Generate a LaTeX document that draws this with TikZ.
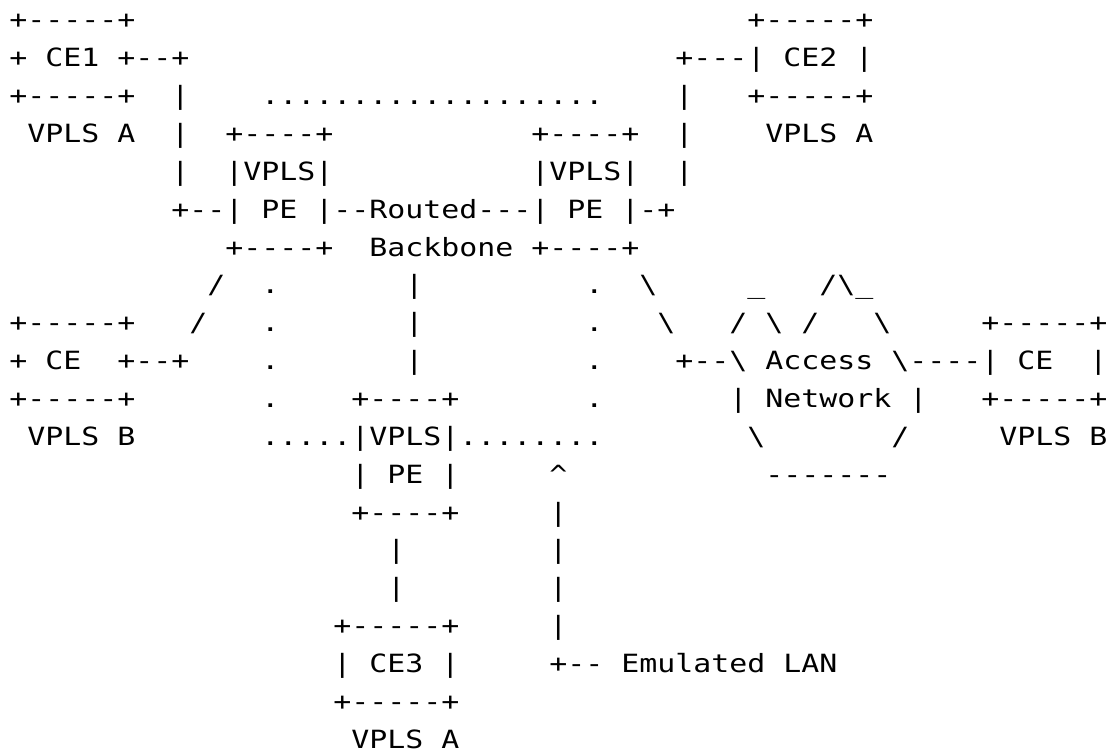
\documentclass[tikz,border=0pt]{standalone}
\usepackage{fontspec}
\newfontfamily\asciifam[FakeStretch=1.1913,Ligatures=TeXOff]{DejaVu Sans Mono}
\tikzset{txt/.style={anchor=base west,inner sep=0pt,outer sep=0pt,text=black,
  font=\asciifam\fontsize{25.1}{30}\selectfont}}
% #1 = line (1-based), #2 = column (0-based), #3 = text
\newcommand\R[3]{\node[txt] (n#1x#2) at ({9.3pt+18pt*#2},{-28.8pt-37.87pt*(#1-1)}) {#3};}
\newcommand\bs{\textbackslash}
\begin{document}
\begin{tikzpicture}
\fill[white] (0,0) rectangle (1111pt,-753pt);
\useasboundingbox (0,0) rectangle (1111pt,-753pt);
% line 1
\R{1}{0}{+-----+}\R{1}{41}{+-----+}
% line 2
\R{2}{0}{+}\R{2}{2}{CE1}\R{2}{6}{+--+}\R{2}{37}{+---|}\R{2}{43}{CE2}\R{2}{47}{|}
% line 3
\R{3}{0}{+-----+}\R{3}{9}{|}\R{3}{14}{...................}\R{3}{37}{|}\R{3}{41}{+-----+}
% line 4
\R{4}{1}{VPLS}\R{4}{6}{A}\R{4}{9}{|}\R{4}{12}{+----+}\R{4}{29}{+----+}\R{4}{37}{|}\R{4}{42}{VPLS}\R{4}{47}{A}
% line 5
\R{5}{9}{|}\R{5}{12}{|VPLS|}\R{5}{29}{|VPLS|}\R{5}{37}{|}
% line 6
\R{6}{9}{+--|}\R{6}{14}{PE}\R{6}{17}{|--Routed---|}\R{6}{31}{PE}\R{6}{34}{|-+}
% line 7
\R{7}{12}{+----+}\R{7}{20}{Backbone}\R{7}{29}{+----+}
% line 8
\R{8}{11}{/}\R{8}{14}{.}\R{8}{22}{|}\R{8}{32}{.}\R{8}{35}{\bs}\R{8}{41}{\_}\R{8}{45}{/\bs\_}
% line 9
\R{9}{0}{+-----+}\R{9}{10}{/}\R{9}{14}{.}\R{9}{22}{|}\R{9}{32}{.}\R{9}{36}{\bs}\R{9}{40}{/}\R{9}{42}{\bs}\R{9}{44}{/}\R{9}{48}{\bs}\R{9}{54}{+-----+}
% line 10
\R{10}{0}{+}\R{10}{2}{CE}\R{10}{6}{+--+}\R{10}{14}{.}\R{10}{22}{|}\R{10}{32}{.}\R{10}{37}{+--\bs}\R{10}{42}{Access}\R{10}{49}{\bs----|}\R{10}{56}{CE}\R{10}{60}{|}
% line 11
\R{11}{0}{+-----+}\R{11}{14}{.}\R{11}{19}{+----+}\R{11}{32}{.}\R{11}{40}{|}\R{11}{42}{Network}\R{11}{50}{|}\R{11}{54}{+-----+}
% line 12
\R{12}{1}{VPLS}\R{12}{6}{B}\R{12}{14}{.....|VPLS|........}\R{12}{41}{\bs}\R{12}{49}{/}\R{12}{55}{VPLS}\R{12}{60}{B}
% line 13
\R{13}{19}{|}\R{13}{21}{PE}\R{13}{24}{|}\R{13}{30}{\textasciicircum}\R{13}{42}{-------}
% line 14
\R{14}{19}{+----+}\R{14}{30}{|}
% line 15
\R{15}{21}{|}\R{15}{30}{|}
% line 16
\R{16}{21}{|}\R{16}{30}{|}
% line 17
\R{17}{18}{+-----+}\R{17}{30}{|}
% line 18
\R{18}{18}{|}\R{18}{20}{CE3}\R{18}{24}{|}\R{18}{30}{+--}\R{18}{34}{Emulated}\R{18}{43}{LAN}
% line 19
\R{19}{18}{+-----+}
% line 20
\R{20}{19}{VPLS}\R{20}{24}{A}
\end{tikzpicture}
\end{document}
